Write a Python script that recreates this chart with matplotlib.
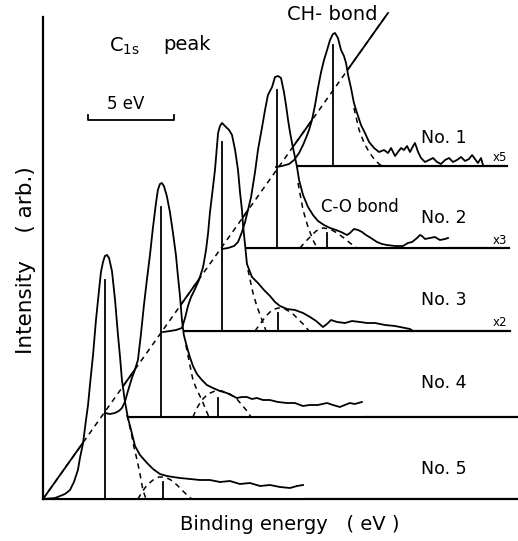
import matplotlib.pyplot as plt
import numpy as np

# Energy scale: 5 eV on the scale bar is 86 px wide in the original figure.
# Every spectrum is stored relative to its own starting point (eV) and baseline (arb.).
LABELS = ["No. 1", "No. 2", "No. 3", "No. 4", "No. 5"]
GAINS = ["x5", "x3", "x2", None, None]

# Waterfall offsets of each spectrum (energy in eV, intensity in arb. units).
SHIFT_E = [13.55, 10.41, 6.98, 3.60, 0.0]
SHIFT_I = [333, 251, 168, 82, 0]
BASE_END = [26.98, 27.09, 27.15, 27.62, 27.62]

# Measured C1s spectra.
NO1_E = [0, 0.35, 0.76, 1.05, 1.34, 1.57, 1.74, 1.92, 2.09, 2.27, 2.44, 2.62, 2.79, 2.97,
         3.14, 3.31, 3.43, 3.60, 3.78, 3.95, 4.07, 4.19, 4.36, 4.53, 4.71, 4.94, 5.17,
         5.41, 5.70, 5.99, 6.28, 6.51, 6.69, 6.92, 7.09, 7.27, 7.44, 7.62, 7.79, 7.97,
         8.08, 8.26, 8.43, 8.66, 8.90, 9.13, 9.36, 9.59, 9.83, 10.06, 10.29, 10.52,
         10.76, 10.99, 11.22, 11.40, 11.57, 11.74, 11.92, 12.03]
NO1_I = [-1, 0, 2, 6, 13, 21, 28, 36, 46, 61, 78, 94, 106, 116,
         126, 132, 133, 128, 116, 110, 103, 91, 78, 63, 53, 41, 33,
         24, 18, 14, 16, 13, 18, 10, 14, 18, 16, 20, 14, 20,
         23, 14, 8, 4, 6, 8, 4, 2, 6, 8, 4, 6,
         9, 5, 7, 11, 7, 3, 8, 1]

NO2_E = [0, 0.35, 0.70, 0.93, 1.16, 1.34, 1.51, 1.69, 1.80, 1.92, 2.09, 2.33, 2.50, 2.67,
         2.91, 3.08, 3.26, 3.43, 3.60, 3.72, 3.84, 3.95, 4.07, 4.24, 4.36, 4.48, 4.71,
         5.00, 5.29, 5.58, 5.93, 6.28, 6.63, 6.92, 7.27, 7.44, 7.67, 7.91, 8.14, 8.37,
         8.66, 9.01, 9.30, 9.59, 10.06, 10.52, 10.81, 11.05, 11.34, 11.51, 11.63, 11.80,
         12.09, 12.38, 12.67, 12.97, 13.14]
NO2_I = [-1, 0, 2, 6, 16, 26, 38, 51, 63, 76, 98, 121, 138, 153,
         161, 171, 172, 170, 156, 143, 128, 116, 105, 91, 81, 68, 53,
         41, 33, 27, 23, 20, 18, 16, 13, 15, 19, 18, 16, 13,
         10, 6, 4, 3, 2, 2, 5, 6, 10, 13, 12, 9,
         10, 11, 8, 9, 10]

NO3_E = [0, 0.41, 0.76, 1.10, 1.28, 1.45, 1.63, 1.86, 2.09, 2.33, 2.50, 2.62, 2.73, 2.85,
         3.02, 3.20, 3.31, 3.43, 3.60, 3.84, 4.01, 4.19, 4.36, 4.48, 4.59, 4.65, 4.77,
         4.88, 5.17, 5.52, 5.87, 6.22, 6.51, 6.80, 7.21, 7.67, 8.14, 8.55, 8.90, 9.30,
         9.53, 9.77, 10.12, 10.58, 10.99, 11.45, 11.86, 12.33, 12.91, 13.49, 14.07,
         14.36, 14.53]
NO3_I = [-1, 0, 1, 3, 13, 25, 34, 42, 51, 64, 81, 98, 119, 136,
         161, 198, 205, 208, 205, 201, 196, 181, 161, 138, 121, 106, 86,
         67, 54, 48, 41, 35, 29, 25, 22, 21, 18, 14, 10, 4,
         7, 11, 9, 8, 10, 9, 8, 8, 6, 5, 3,
         2, 0]

NO4_E = [0, 0.29, 0.58, 0.81, 0.99, 1.16, 1.34, 1.57, 1.74, 1.92, 2.09, 2.27, 2.44, 2.62,
         2.79, 2.97, 3.08, 3.20, 3.31, 3.43, 3.60, 3.78, 3.95, 4.13, 4.24, 4.36, 4.48,
         4.59, 4.77, 4.94, 5.12, 5.35, 5.64, 5.93, 6.28, 6.69, 7.09, 7.44, 7.67, 7.97,
         8.26, 8.55, 8.84, 9.19, 9.59, 10.06, 10.58, 11.05, 11.51, 11.92, 12.38, 12.91,
         13.26, 13.66, 13.95, 14.24, 14.53, 14.94]
NO4_I = [4, 3, 4, 6, 9, 15, 26, 39, 47, 57, 82, 112, 137, 162,
         189, 214, 227, 233, 234, 231, 221, 205, 185, 162, 142, 122, 97,
         82, 70, 60, 51, 43, 37, 32, 29, 26, 24, 21, 19, 20,
         20, 18, 19, 17, 17, 15, 14, 14, 11, 12, 12, 14,
         12, 10, 12, 14, 13, 15]

NO5_E = [0, 0.41, 0.70, 0.99, 1.28, 1.57, 1.80, 2.03, 2.15, 2.33, 2.50, 2.62, 2.73, 2.91,
         3.08, 3.26, 3.37, 3.49, 3.60, 3.72, 3.84, 4.01, 4.19, 4.36, 4.48, 4.59, 4.77,
         4.94, 5.12, 5.35, 5.64, 6.05, 6.40, 6.80, 7.21, 7.56, 7.97, 8.55, 9.13, 9.71,
         10.29, 10.87, 11.45, 12.03, 12.62, 13.20, 13.78, 14.36, 14.77, 15.12]
NO5_I = [0, 0.5, 1, 3, 5, 9, 17, 29, 41, 56, 79, 94, 114, 144,
         179, 209, 227, 237, 243, 244, 241, 228, 199, 164, 142, 119, 97,
         81, 69, 53, 44, 36, 30, 25, 23, 22, 21, 20, 19, 19,
         17, 18, 15, 16, 13, 14, 12, 11, 13, 14]

SPECTRA_E = [NO1_E, NO2_E, NO3_E, NO4_E, NO5_E]
SPECTRA_I = [NO1_I, NO2_I, NO3_I, NO4_I, NO5_I]

# CH-bond peak marker (position, height) and fitted CH component tail.
CH_POS = [3.31, 3.20, 3.43, 3.26, 3.60]
CH_TOP = [121, 158, 189, 210, 219]
CH_FIT_E = [
    [4.53, 4.83, 5.12, 5.41, 5.70, 5.99, 6.16],
    [4.42, 4.71, 5.00, 5.29, 5.52],
    [4.94, 5.23, 5.47, 5.76, 5.99],
    [4.71, 4.94, 5.12, 5.35, 5.64, 5.87, 6.05],
    [4.88, 5.12, 5.29, 5.47, 5.64, 5.81, 5.99],
]
CH_FIT_I = [
    [58, 36, 23, 14, 7, 2, 0],
    [65, 38, 21, 8, 0],
    [61, 38, 24, 11, 0],
    [72, 52, 37, 27, 17, 7, 0],
    [84, 67, 52, 39, 25, 9, 0],
]

# C-O bond component (not resolved for No. 1).
CO_POS = [None, 6.10, 6.69, 6.57, 6.98]
CO_TOP = [None, 15, 18, 19, 17]
CO_FIT_E = [
    [],
    [4.53, 4.83, 5.12, 5.47, 5.87, 6.28, 6.69, 7.09, 7.44, 7.85],
    [5.35, 5.64, 5.99, 6.34, 6.69, 7.09, 7.50, 7.85, 8.20, 8.49],
    [5.12, 5.35, 5.64, 5.99, 6.40, 6.80, 7.27, 7.67, 8.02, 8.31, 8.49],
    [5.52, 5.76, 6.05, 6.40, 6.74, 7.09, 7.44, 7.79, 8.14, 8.49, 8.66],
]
CO_FIT_I = [
    [],
    [0, 6, 11, 17, 20, 19, 15, 10, 5, 0],
    [0, 7, 15, 21, 23, 22, 18, 12, 6, 0],
    [0, 9, 17, 23, 26, 26, 23, 18, 11, 5, 0],
    [0, 7, 14, 19, 22, 22, 19, 14, 8, 2, 0],
]

# CH-bond guide line through the spectrum origins.
DIAG_E = [0.0, 20.06]
DIAG_I = [0, 486]

SCALE_BAR_E = [2.62, 7.62]  # 5 eV
SCALE_BAR_I = 379

W, H = 518, 541
LW = 1.3
DASH = (0, (3.5, 3))


def px(x, y):
    # pixel position in the original picture -> figure fraction
    return x / W, 1 - y / H


def main():
    plt.rcParams["font.family"] = ["DejaVu Sans"]
    fig = plt.figure(figsize=(W / 100, H / 100), dpi=100)
    ax = fig.add_axes([0, 0, 1, 1])
    ax.set_xlim(-2.5, 27.62)
    ax.set_ylim(-42, 499)
    ax.axis("off")

    # Guide line: solid underneath (hidden by the white fills), dashed on top.
    ax.plot(DIAG_E, DIAG_I, color="black", lw=LW, zorder=1)
    ax.plot(DIAG_E, DIAG_I, color="black", lw=1.1, ls=DASH, zorder=5)

    # Intensity axis.
    ax.plot([0, 0], [0, 482], color="black", lw=1.6, zorder=5)

    for k in range(len(LABELS)):
        dx, dy = SHIFT_E[k], SHIFT_I[k]
        x = np.array(SPECTRA_E[k]) + dx
        y = np.array(SPECTRA_I[k]) + dy

        # baseline, hidden behind the spectra in front of it;
        # the white fill stops just above the spectrum's own baseline
        ax.plot([dx, BASE_END[k]], [dy, dy], color="black", lw=1.6, zorder=1)
        ax.fill_between(x, np.maximum(y, dy + 2), dy + 2, color="white", lw=0, zorder=2)
        ax.plot(x, y, color="black", lw=LW, zorder=4)

        ax.plot([CH_POS[k] + dx] * 2, [dy, CH_TOP[k] + dy], color="black", lw=1.3, zorder=4)
        ax.plot(np.array(CH_FIT_E[k]) + dx, np.array(CH_FIT_I[k]) + dy,
                color="black", lw=1.1, ls=DASH, zorder=4)

        if CO_POS[k] is not None:
            ax.plot([CO_POS[k] + dx] * 2, [dy, CO_TOP[k] + dy], color="black", lw=1.3, zorder=4)
            ax.plot(np.array(CO_FIT_E[k]) + dx, np.array(CO_FIT_I[k]) + dy,
                    color="black", lw=1.1, ls=DASH, zorder=4)

    # 5 eV scale bar
    ax.plot([SCALE_BAR_E[0], SCALE_BAR_E[0], SCALE_BAR_E[1], SCALE_BAR_E[1]],
            [SCALE_BAR_I + 5, SCALE_BAR_I, SCALE_BAR_I, SCALE_BAR_I + 5],
            color="black", lw=1.3, zorder=5)

    fig.text(*px(109, 46), r"C$_\mathregular{1s}$", fontsize=14, ha="left", va="center")
    fig.text(*px(163, 45), "peak", fontsize=14, ha="left", va="center")
    fig.text(*px(126, 104), "5 eV", fontsize=12, ha="center", va="center")
    fig.text(*px(332, 15), "CH- bond", fontsize=14, ha="center", va="center")
    fig.text(*px(360, 207), "C-O bond", fontsize=12, ha="center", va="center")

    label_y = [138, 218, 300, 383, 469]
    gain_y = [158, 240, 322]
    for k, label in enumerate(LABELS):
        fig.text(*px(421, label_y[k]), label, fontsize=12.5, ha="left", va="center")
        if GAINS[k]:
            fig.text(*px(500, gain_y[k]), GAINS[k], fontsize=8.5, ha="center", va="center")

    fig.text(*px(26, 260), "Intensity    ( arb.)", fontsize=15.5, rotation=90,
             ha="center", va="center")
    fig.text(*px(290, 525), "Binding energy   ( eV )", fontsize=14,
             ha="center", va="center")

    fig.savefig("out.png", dpi=100)
    plt.close(fig)


if __name__ == "__main__":
    main()
